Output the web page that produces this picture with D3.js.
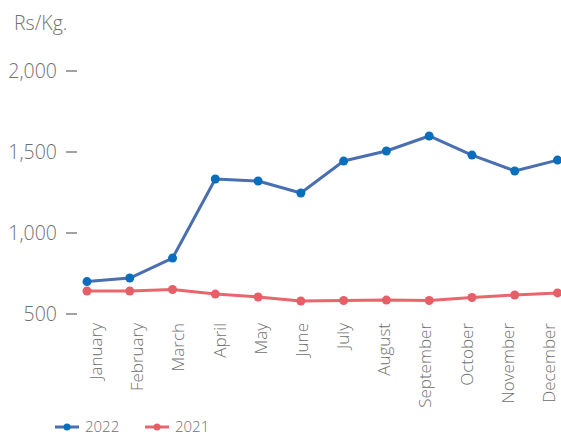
<!DOCTYPE html>
<html>
<head>
<meta charset="utf-8">
<script src="https://cdn.jsdelivr.net/npm/d3@7"></script>
<style>
  html, body { margin: 0; padding: 0; background: #fff; }
  svg text { font-family: "Open Sans", "Segoe UI", sans-serif; font-weight: 300; fill: #707070; }
</style>
</head>
<body>
<svg id="chart" width="561" height="435"></svg>
<script>
const months = ["January","February","March","April","May","June","July","August","September","October","November","December"];
const values2022 = [700, 722, 845, 1333, 1321, 1247, 1444, 1506, 1599, 1481, 1383, 1450];
const values2021 = [642, 642, 651, 623, 605, 580, 583, 586, 583, 602, 617, 630];
const yTicks = [500, 1000, 1500, 2000];
const seriesNames = ["2022", "2021"];
const seriesColors = { "2022": { line: "#4a6fb0", dot: "#0a6ebd" }, "2021": { line: "#e8666c", dot: "#e55f67" } };

const svg = d3.select("#chart");

const x = d3.scalePoint().domain(months).range([87, 557.5]);
const xLabel = d3.scalePoint().domain(months).range([96, 549]);
const y = d3.scaleLinear().domain([500, 2000]).range([314, 71]);

// y axis title
svg.append("text").attr("x", 14).attr("y", 30).attr("font-size", 19.5).text("Rs/Kg.");

// y axis labels + dash marks
const yAxis = svg.append("g");
yTicks.forEach(t => {
  yAxis.append("text")
    .attr("x", 57).attr("y", y(t)).attr("dy", "0.35em")
    .attr("text-anchor", "end").attr("font-size", 19.5)
    .text(d3.format(",")(t));
  yAxis.append("line")
    .attr("x1", 66).attr("x2", 77).attr("y1", y(t)).attr("y2", y(t))
    .attr("stroke", "#707070").attr("stroke-width", 1.3);
});

// x axis labels (rotated)
const xAxis = svg.append("g");
months.forEach(m => {
  xAxis.append("text")
    .attr("transform", `translate(${xLabel(m) + 6},323) rotate(-90)`)
    .attr("text-anchor", "end")
    .attr("font-size", 17)
    .text(m);
});

const line = d3.line().x((d, i) => x(months[i])).y(d => y(d));

function drawSeries(name, vals) {
  const c = seriesColors[name];
  svg.append("path").datum(vals)
    .attr("d", line).attr("fill", "none")
    .attr("stroke", c.line).attr("stroke-width", 3).attr("stroke-linejoin", "round");
  svg.append("g").selectAll("circle").data(vals).join("circle")
    .attr("cx", (d, i) => x(months[i])).attr("cy", d => y(d))
    .attr("r", 4.5).attr("fill", c.dot);
}
drawSeries("2021", values2021);
drawSeries("2022", values2022);

// legend
const legendX = [55, 145];
seriesNames.forEach((n, i) => {
  const g = svg.append("g").attr("transform", `translate(${legendX[i]},427)`);
  g.append("line").attr("x1", 0).attr("x2", 24).attr("y1", 0).attr("y2", 0)
    .attr("stroke", seriesColors[n].line).attr("stroke-width", 3);
  g.append("circle").attr("cx", 12).attr("cy", 0).attr("r", 3.5).attr("fill", seriesColors[n].dot);
  g.append("text").attr("x", 30).attr("y", 0).attr("dy", "0.35em").attr("font-size", 15).text(n);
});
</script>
</body>
</html>
